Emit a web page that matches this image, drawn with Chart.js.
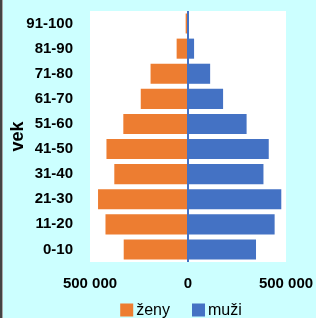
<!DOCTYPE html>
<html>
<head>
<meta charset="utf-8">
<script src="https://cdn.jsdelivr.net/npm/chart.js@4"></script>
<style>
  html, body { margin: 0; padding: 0; background: #ccffff; }
  #wrap { width: 316px; height: 318px; position: relative; box-sizing: border-box; border-left: 2px solid #444; box-shadow: inset 1px 0 0 #aaa; }
</style>
</head>
<body>
<div id="wrap"><canvas id="pyramid"></canvas></div>
<script>
const vekoveSkupiny = ["91-100", "81-90", "71-80", "61-70", "51-60", "41-50", "31-40", "21-30", "11-20", "0-10"];
const zeny = [12000, 58000, 191000, 241000, 330000, 416000, 376000, 459000, 421000, 328000];
const muzi = [5000, 31000, 113000, 179000, 299000, 412000, 385000, 476000, 442000, 347000];
const xTicky = [-500000, 0, 500000];

const oranzova = "#ED7D31";
const modra = "#4472C4";
const rodina = "Liberation Sans, Arial, sans-serif";
const pismo = { family: rodina, size: 15, weight: "bold" };

// biele pozadie plochy grafu
const bielaPlocha = {
  id: "bielaPlocha",
  beforeDraw(chart) {
    const { ctx, chartArea: a } = chart;
    ctx.save();
    ctx.fillStyle = "#ffffff";
    ctx.fillRect(a.left, a.top, a.right - a.left, a.bottom - a.top);
    ctx.restore();
  },
};

// legenda dole, kreslena rucne aby sedeli rozostupy
const legenda = {
  id: "legenda",
  afterDraw(chart) {
    const ctx = chart.ctx;
    const box = 13, medzera = 3, odstup = 22, y = 310, stred = 179;
    ctx.save();
    ctx.font = "16px " + rodina;
    ctx.textBaseline = "middle";
    const polozky = chart.data.datasets.map((d) => ({ text: d.label, farba: d.backgroundColor, w: ctx.measureText(d.label).width }));
    const spolu = polozky.reduce((s, p) => s + box + medzera + p.w, 0) + odstup * (polozky.length - 1);
    let x = stred - spolu / 2;
    polozky.forEach((p) => {
      ctx.fillStyle = p.farba;
      ctx.fillRect(x, y - box / 2, box, box);
      x += box + medzera;
      ctx.fillStyle = "#000";
      ctx.fillText(p.text, x, y + 1);
      x += p.w + odstup;
    });
    ctx.restore();
  },
};

const formatuj = (v) => Math.abs(v).toLocaleString("en-US").replace(/,/g, " ");

new Chart(document.getElementById("pyramid"), {
  type: "bar",
  data: {
    labels: vekoveSkupiny,
    datasets: [
      { label: "ženy", data: zeny.map((v) => -v), backgroundColor: oranzova },
      { label: "muži", data: muzi, backgroundColor: modra },
    ],
  },
  options: {
    indexAxis: "y",
    responsive: true,
    maintainAspectRatio: false,
    animation: false,
    layout: { padding: { top: 11, right: 30, left: 0, bottom: 22 } },
    datasets: { bar: { barPercentage: 0.8, categoryPercentage: 1 } },
    scales: {
      x: {
        stacked: true,
        min: -500000,
        max: 500000,
        afterBuildTicks: (s) => { s.ticks = xTicky.map((v) => ({ value: v })); },
        afterFit: (s) => { s.height = 34; s.paddingLeft = 0; s.paddingRight = 0; },
        border: { display: false },
        grid: {
          drawTicks: false,
          lineWidth: 2,
          color: (c) => (c.tick && c.tick.value === 0 ? modra : "rgba(0,0,0,0)"),
        },
        ticks: { padding: 13, color: "#000", font: pismo, callback: (v) => formatuj(v), maxRotation: 0 },
      },
      y: {
        stacked: true,
        afterFit: (s) => { s.width = 88; s.paddingTop = 0; s.paddingBottom = 0; },
        border: { display: false },
        grid: { display: false, drawTicks: false },
        ticks: { padding: 17, color: "#000", font: pismo },
        title: { display: true, text: "vek", color: "#000", font: { family: rodina, size: 18, weight: "bold" }, padding: { top: 5, bottom: 0 } },
      },
    },
    plugins: {
      tooltip: { enabled: false },
      legend: { display: false },
    },
  },
  plugins: [bielaPlocha, legenda],
});
</script>
</body>
</html>
